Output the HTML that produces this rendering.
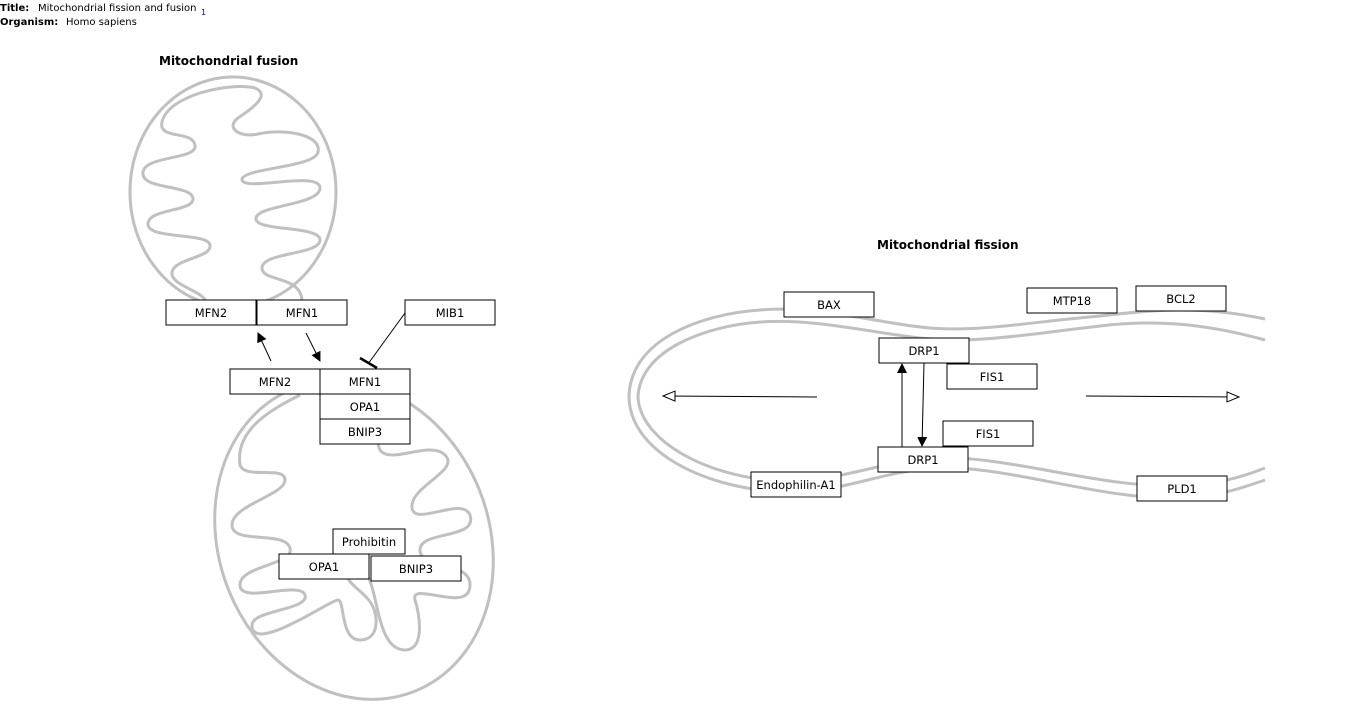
<!DOCTYPE html>
<html><head><meta charset="utf-8"><style>
body{margin:0;background:#fff;}
svg{display:block;font-family:"DejaVu Sans","Liberation Sans",sans-serif;}
.b{fill:#fff;stroke:#000;stroke-width:1;}
.m{fill:none;stroke:#c0c0c0;stroke-width:3;}
text{font-size:11.5px;}
</style></head><body>
<svg width="1348" height="711" viewBox="0 0 1348 711" xmlns="http://www.w3.org/2000/svg">
<defs>
<marker id="f" markerWidth="10" markerHeight="10" refX="9" refY="5" orient="auto" markerUnits="userSpaceOnUse"><path d="M0,0 L10,5 L0,10 z" fill="#000"/></marker>
<marker id="o" markerWidth="14" markerHeight="12" refX="13" refY="6" orient="auto" markerUnits="userSpaceOnUse"><path d="M1,1 L13,6 L1,11 z" fill="#fff" stroke="#000"/></marker>
</defs>
<text x="0" y="11" style="font-size:10px;font-weight:bold">Title:</text><text x="38" y="11" style="font-size:10px">Mitochondrial fission and fusion</text><text x="201" y="15" style="font-size:8px" fill="#00c">1</text>
<text x="0" y="25" style="font-size:10px;font-weight:bold">Organism:</text><text x="66" y="25" style="font-size:10px">Homo sapiens</text>
<text x="159" y="65" style="font-weight:bold;font-size:12px">Mitochondrial fusion</text>
<text x="877" y="249" style="font-weight:bold;font-size:12px">Mitochondrial fission</text>

<!-- upper mitochondrion -->
<ellipse class="m" cx="233" cy="192" rx="103" ry="115"/>
<path class="m" d="M205,300 C200,290 170,285 172,272 C175,258 212,258 210,245 C207,232 148,240 148,224 C148,208 195,212 193,198 C190,184 140,190 143,172 C146,155 198,160 195,145 C192,130 158,140 162,122 C168,95 230,82 255,88 C272,95 250,110 238,118 C225,128 240,138 258,134 C285,128 322,135 318,152 C315,168 240,168 242,180 C245,192 320,170 320,188 C320,205 258,205 256,218 C254,232 320,225 320,240 C320,255 262,252 262,268 C262,282 300,275 302,300"/>
<!-- lower mitochondrion -->
<ellipse class="m" cx="354" cy="540" rx="135" ry="163" transform="rotate(-22 354 540)"/>
<path class="m" d="M300,395 C270,410 235,430 240,465 C245,480 285,465 285,480 C285,495 232,505 232,525 C232,545 285,530 290,548 C295,565 240,565 240,585 C240,605 300,580 305,595 C310,610 252,610 252,625 C252,655 330,600 338,600 C345,600 340,640 360,640 C380,640 378,615 372,605 C365,590 330,575 360,572 C380,570 372,650 405,650 C425,650 420,615 415,600 C410,580 470,615 470,585 C470,560 420,570 420,550 C420,530 478,540 470,515 C462,495 410,530 412,505 C414,485 460,470 445,455 C430,440 390,465 380,450 C370,430 405,430 405,410 C405,395 340,440 330,440"/>

<!-- fusion boxes -->
<rect class="b" x="166" y="300" width="90" height="25"/><text x="211" y="317" text-anchor="middle">MFN2</text>
<rect class="b" x="257" y="300" width="90" height="25"/><text x="302" y="317" text-anchor="middle">MFN1</text>
<rect class="b" x="405" y="300" width="90" height="25"/><text x="450" y="317" text-anchor="middle">MIB1</text>
<rect class="b" x="230" y="369" width="90" height="25"/><text x="275" y="386" text-anchor="middle">MFN2</text>
<rect class="b" x="320" y="369" width="90" height="25"/><text x="365" y="386" text-anchor="middle">MFN1</text>
<rect class="b" x="320" y="394" width="90" height="25"/><text x="365" y="411" text-anchor="middle">OPA1</text>
<rect class="b" x="320" y="419" width="90" height="25"/><text x="365" y="436" text-anchor="middle">BNIP3</text>
<rect class="b" x="333" y="529" width="72" height="25"/><text x="369" y="546" text-anchor="middle">Prohibitin</text>
<rect class="b" x="279" y="554" width="90" height="25"/><text x="324" y="571" text-anchor="middle">OPA1</text>
<rect class="b" x="371" y="556" width="90" height="25"/><text x="416" y="573" text-anchor="middle">BNIP3</text>
<line x1="271" y1="361" x2="258" y2="333" stroke="#000" marker-end="url(#f)"/>
<line x1="306" y1="333" x2="320" y2="361" stroke="#000" marker-end="url(#f)"/>
<line x1="405" y1="313" x2="368" y2="364" stroke="#000"/>
<line x1="360" y1="358" x2="377" y2="368" stroke="#000" stroke-width="2.5"/>

<!-- fission mitochondrion -->
<path class="m" d="M1265,319 C1200,305 1150,310 1100,316 C1030,322 980,332 930,328 C880,324 820,305 760,310 C700,314 630,340 629,397 C630,450 700,487 780,492 C840,495 880,470 940,468 C1010,466 1100,500 1180,498 C1220,497 1250,485 1265,480"/>
<path class="m" d="M1265,340 C1200,322 1150,320 1100,326 C1030,334 980,343 930,339 C880,335 820,318 760,322 C705,326 640,350 638,397 C640,440 705,477 780,481 C840,483 880,460 940,458 C1010,456 1100,488 1180,486 C1220,485 1250,474 1265,468"/>
<rect x="1266" y="280" width="82" height="240" fill="#fff"/>

<rect class="b" x="784" y="292" width="90" height="25"/><text x="829" y="309" text-anchor="middle">BAX</text>
<rect class="b" x="1027" y="288" width="90" height="25"/><text x="1072" y="305" text-anchor="middle">MTP18</text>
<rect class="b" x="1136" y="286" width="90" height="25"/><text x="1181" y="303" text-anchor="middle">BCL2</text>
<rect class="b" x="879" y="338" width="90" height="25"/><text x="924" y="355" text-anchor="middle">DRP1</text>
<rect class="b" x="947" y="364" width="90" height="25"/><text x="992" y="381" text-anchor="middle">FIS1</text>
<rect class="b" x="943" y="421" width="90" height="25"/><text x="988" y="438" text-anchor="middle">FIS1</text>
<rect class="b" x="878" y="447" width="90" height="25"/><text x="923" y="464" text-anchor="middle">DRP1</text>
<rect class="b" x="751" y="472" width="90" height="25"/><text x="796" y="489" text-anchor="middle">Endophilin-A1</text>
<rect class="b" x="1137" y="476" width="90" height="25"/><text x="1182" y="493" text-anchor="middle">PLD1</text>
<line x1="902" y1="447" x2="902" y2="364" stroke="#000" marker-end="url(#f)"/>
<line x1="924" y1="363" x2="922" y2="446" stroke="#000" marker-end="url(#f)"/>
<line x1="817" y1="397" x2="663" y2="396" stroke="#000" marker-end="url(#o)"/>
<line x1="1086" y1="396" x2="1239" y2="397" stroke="#000" marker-end="url(#o)"/>
</svg>
</body></html>
